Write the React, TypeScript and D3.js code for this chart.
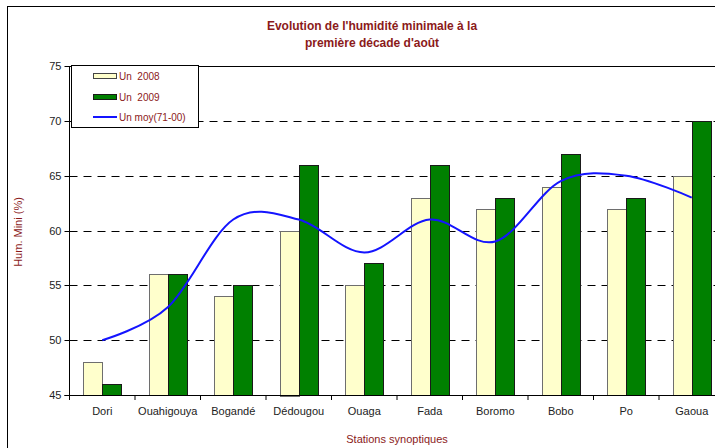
import React from 'react';
import * as d3 from 'd3';

const stations = ['Dori', 'Ouahigouya', 'Bogandé', 'Dédougou', 'Ouaga', 'Fada', 'Boromo', 'Bobo', 'Po', 'Gaoua'];
const un2008 = [48, 56, 54, 60, 55, 63, 62, 64, 62, 65];
const un2009 = [46, 56, 55, 66, 57, 66, 63, 67, 63, 70];
const unMoy = [50, 53, 61, 61, 58, 61, 59, 64.5, 65, 63];
const yTicks = [45, 50, 55, 60, 65, 70, 75];
const seriesNames = ['Un  2008', 'Un  2009', 'Un moy(71-00)'];

const W = 715;
const H = 448;
const plot = { left: 69.5, right: 724.5, top: 66, bottom: 395 };
const red = '#8b1a1a';
const font = 'Arial, "Liberation Sans", sans-serif';

export default function App() {
  const x0 = d3.scaleBand<string>().domain(stations).range([plot.left, plot.right]).padding(0);
  const x1 = d3.scaleBand<string>().domain(['2008', '2009']).range([0, x0.bandwidth()]).paddingInner(0).paddingOuter(0.724);
  const y = d3.scaleLinear().domain([45, 75]).range([plot.bottom, plot.top]);

  const line = d3.line<number>()
    .x((_, i) => (x0(stations[i]) ?? 0) + x0.bandwidth() / 2)
    .y(d => y(d))
    .curve(d3.curveCardinal.tension(0));

  const bars = [
    { key: '2008', values: un2008, fill: '#ffffcc', stroke: '#6e6e6e' },
    { key: '2009', values: un2009, fill: '#008000', stroke: '#1a1a1a' },
  ];

  return (
    <svg width={W} height={H} style={{ position: 'absolute', left: 0, top: 0, background: '#fff' }} fontFamily={font}>
      <rect x={7.5} y={6.5} width={800} height={600} fill="#fff" stroke="#000" strokeWidth={1} />

      <text x={372} y={30} textAnchor="middle" fontSize={12} fontWeight="bold" fill={red}>
        Evolution de l'humidité minimale à la
      </text>
      <text x={372} y={47} textAnchor="middle" fontSize={12} fontWeight="bold" fill={red}>
        première décade d'août
      </text>

      {/* grid */}
      {yTicks.filter(t => t > 45 && t < 75).map(t => (
        <line key={t} x1={plot.left} x2={plot.right} y1={Math.round(y(t)) + 0.5} y2={Math.round(y(t)) + 0.5}
          stroke="#000" strokeDasharray="8,6" />
      ))}
      <line x1={plot.left} x2={plot.right} y1={plot.top + 0.5} y2={plot.top + 0.5} stroke="#000" />

      {/* bars */}
      {bars.map(s => s.values.map((v, i) => {
        const bx = (x0(stations[i]) ?? 0) + (x1(s.key) ?? 0);
        return (
          <rect key={s.key + i} x={Math.round(bx) + 0.5} y={Math.round(y(v)) + 0.5}
            width={Math.round(x1.bandwidth())} height={Math.round(y(45) - y(v))}
            fill={s.fill} stroke={s.stroke} strokeWidth={1} />
        );
      }))}

      {/* axes */}
      <line x1={plot.left} x2={plot.left} y1={plot.top} y2={plot.bottom + 0.5} stroke="#000" />
      <line x1={plot.left - 5} x2={plot.right} y1={plot.bottom + 0.5} y2={plot.bottom + 0.5} stroke="#000" />
      {yTicks.map(t => (
        <g key={t}>
          <line x1={plot.left - 5} x2={plot.left} y1={Math.round(y(t)) + 0.5} y2={Math.round(y(t)) + 0.5} stroke="#000" />
          <text x={plot.left - 8} y={y(t) + 4} textAnchor="end" fontSize={11} fill="#222">{t}</text>
        </g>
      ))}
      {stations.map(s => (
        <g key={s}>
          <line x1={(x0(s) ?? 0)} x2={(x0(s) ?? 0)} y1={plot.bottom} y2={plot.bottom + 5} stroke="#000" />
          <text x={(x0(s) ?? 0) + x0.bandwidth() / 2} y={plot.bottom + 20} textAnchor="middle" fontSize={11} fill="#222">{s}</text>
        </g>
      ))}

      {/* average line */}
      <path d={line(unMoy) ?? ''} fill="none" stroke="#1414ff" strokeWidth={2} />

      {/* axis titles */}
      <text x={397} y={443} textAnchor="middle" fontSize={11} fill={red}>Stations synoptiques</text>
      <text transform="translate(22,232) rotate(-90)" textAnchor="middle" fontSize={11} fill={red}>Hum. Mini (%)</text>

      {/* legend */}
      <rect x={71.5} y={65.5} width={127} height={62} fill="#fff" stroke="#000" />
      <rect x={93.5} y={73.5} width={23} height={5} fill="#ffffcc" stroke="#444" />
      <rect x={93.5} y={94.5} width={23} height={5} fill="#008000" stroke="#1a1a1a" />
      <line x1={93} x2={117} y1={117} y2={117} stroke="#1414ff" strokeWidth={2} />
      {seriesNames.map((n, i) => (
        <text key={n} x={119} y={80 + i * 20.5} fontSize={10} fill={red} xmlSpace="preserve" style={{ whiteSpace: 'pre' }}>{n}</text>
      ))}
    </svg>
  );
}
